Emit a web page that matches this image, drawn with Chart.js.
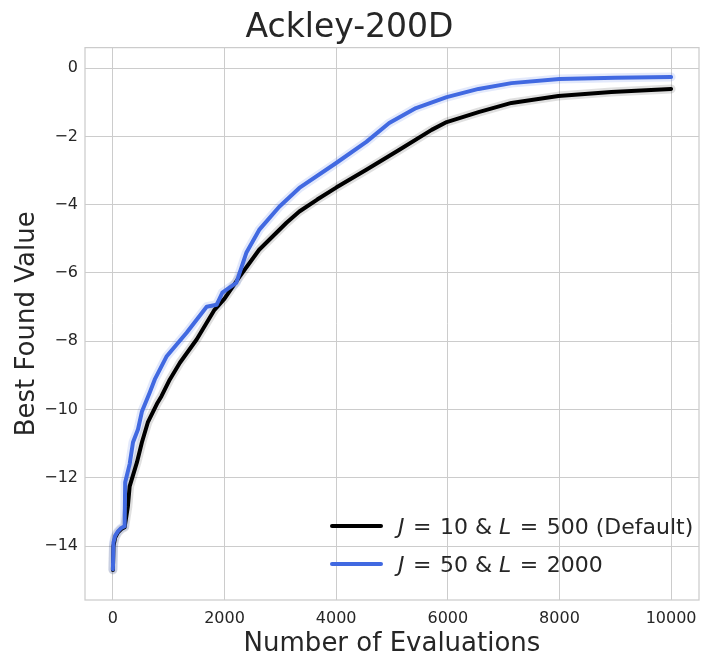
<!DOCTYPE html>
<html>
<head>
<meta charset="utf-8">
<script src="https://cdn.jsdelivr.net/npm/chart.js@4.4.1/dist/chart.umd.min.js"></script>
<style>
  html, body { margin: 0; padding: 0; background: #fff; }
  #wrap { width: 719px; height: 670px; }
</style>
</head>
<body>
<div id="wrap"><canvas id="ackleyChart" width="719" height="670"></canvas></div>
<script>
// --- data ---
const xTicks = [0, 2000, 4000, 6000, 8000, 10000];
const yTicks = [0, -2, -4, -6, -8, -10, -12, -14];

const seriesNames = ['J = 10 & L = 500 (Default)', 'J = 50 & L = 2000'];

// J = 10, L = 500
const defaultEvals = [0, 10, 40, 90, 150, 210, 268, 300, 430, 520, 625, 800, 870, 1020, 1200, 1500, 1820, 2000, 2270, 2620, 3110, 3340, 3660, 4000, 4540, 5125, 5710, 5980, 6550, 7140, 7980, 8930, 10000];
const defaultBest = [-14.7, -14.0, -13.75, -13.6, -13.5, -13.45, -12.84, -12.25, -11.55, -10.96, -10.38, -9.8, -9.61, -9.12, -8.63, -7.95, -7.08, -6.75, -6.11, -5.32, -4.53, -4.2, -3.85, -3.5, -2.98, -2.4, -1.81, -1.58, -1.29, -1.02, -0.82, -0.70, -0.61];

// J = 50, L = 2000
const bigEvals = [0, 10, 40, 90, 150, 210, 220, 300, 360, 450, 520, 660, 750, 960, 1320, 1680, 1860, 1960, 2210, 2390, 2620, 2980, 3340, 4000, 4540, 4950, 5430, 5980, 6550, 7140, 8000, 9000, 10000];
const bigBest = [-14.68, -13.9, -13.7, -13.57, -13.47, -13.42, -12.13, -11.6, -10.96, -10.58, -10.06, -9.5, -9.12, -8.45, -7.75, -6.99, -6.93, -6.58, -6.29, -5.41, -4.74, -4.06, -3.51, -2.78, -2.16, -1.61, -1.17, -0.85, -0.61, -0.44, -0.32, -0.28, -0.26];

const textColor = '#262626';
const gridColor = '#cccccc';
const fontFamily = '"DejaVu Sans", sans-serif';
const lineColors = ['#000000', '#4169e1'];
const haloColors = ['rgba(0,0,0,0.12)', 'rgba(65,105,225,0.15)'];

function toPoints(xs, ys) {
  return xs.map((x, i) => ({ x: x, y: ys[i] }));
}

function fmtTick(v) {
  return v < 0 ? '\u2212' + Math.abs(v) : String(v);
}

// frame around the axes + legend with italic J / L
const frameAndLegend = {
  id: 'frameAndLegend',
  beforeDatasetsDraw(chart) {
    const { ctx, chartArea: a } = chart;
    ctx.save();
    ctx.strokeStyle = gridColor;
    ctx.lineWidth = 1.25;
    ctx.strokeRect(a.left, a.top, a.right - a.left, a.bottom - a.top);
    ctx.restore();
  },
  afterDraw(chart) {
    const { ctx, chartArea: a } = chart;
    const rows = [a.bottom - 74, a.bottom - 36];
    const lineStart = a.right - 367;
    const lineEnd = a.right - 318;
    const textStart = a.right - 301;
    ctx.save();
    ctx.textBaseline = 'middle';
    ctx.fillStyle = textColor;
    seriesNames.forEach((name, i) => {
      const y = rows[i];
      ctx.strokeStyle = lineColors[i];
      ctx.lineWidth = 4;
      ctx.lineCap = 'round';
      ctx.beginPath();
      ctx.moveTo(lineStart, y);
      ctx.lineTo(lineEnd, y);
      ctx.stroke();

      // math-style: italic J / L and a bit more room round "="
      let x = textStart;
      const parts = name.split(/([JL](?= =)|=)/).filter(p => p.length);
      parts.forEach(p => {
        const italic = (p === 'J' || p === 'L');
        ctx.font = (italic ? 'italic ' : '') + '22px ' + fontFamily;
        if (p === '=') x += 1.5;
        ctx.fillText(p, x, y + 2);
        x += ctx.measureText(p).width;
        if (p === '=') x += 1.5;
      });
    });
    ctx.restore();
  }
};

new Chart(document.getElementById('ackleyChart'), {
  type: 'line',
  data: {
    datasets: [
      { label: seriesNames[1], data: toPoints(bigEvals, bigBest), borderColor: lineColors[1], borderWidth: 4, pointRadius: 0, order: 0 },
      { label: seriesNames[0], data: toPoints(defaultEvals, defaultBest), borderColor: lineColors[0], borderWidth: 4, pointRadius: 0, order: 1 },
      { label: 'band1', data: toPoints(bigEvals, bigBest), borderColor: haloColors[1], borderWidth: 9, pointRadius: 0, order: 2 },
      { label: 'band0', data: toPoints(defaultEvals, defaultBest), borderColor: haloColors[0], borderWidth: 9, pointRadius: 0, order: 3 }
    ]
  },
  options: {
    responsive: false,
    animation: false,
    events: [],
    layout: { padding: { left: 0, right: 20, top: 0, bottom: 0 } },
    elements: { line: { tension: 0, borderJoinStyle: 'round', borderCapStyle: 'round' } },
    plugins: {
      legend: { display: false },
      tooltip: { enabled: false },
      title: {
        display: true,
        text: 'Ackley-200D',
        color: textColor,
        font: { family: fontFamily, size: 33, weight: 'normal', lineHeight: 1.14 },
        padding: { top: 10, bottom: 0 }
      }
    },
    scales: {
      x: {
        type: 'linear',
        min: -500,
        max: 10500,
        afterBuildTicks: s => { s.ticks = xTicks.map(v => ({ value: v })); },
        afterFit: s => { s.height = 70; },
        grid: { color: gridColor, lineWidth: 1, drawTicks: false },
        border: { display: false },
        ticks: {
          color: textColor,
          font: { family: fontFamily, size: 16 },
          padding: 9,
          maxRotation: 0,
          autoSkip: false,
          callback: v => fmtTick(v)
        },
        title: {
          display: true,
          text: 'Number of Evaluations',
          color: textColor,
          font: { family: fontFamily, size: 26 },
          padding: { top: 0, bottom: 10 }
        }
      },
      y: {
        type: 'linear',
        min: -15.58,
        max: 0.6,
        afterBuildTicks: s => { s.ticks = yTicks.map(v => ({ value: v })); },
        afterFit: s => { s.width = 85; },
        grid: { color: gridColor, lineWidth: 1, drawTicks: false },
        border: { display: false },
        ticks: {
          color: textColor,
          font: { family: fontFamily, size: 16 },
          padding: 7,
          autoSkip: false,
          callback: v => fmtTick(v)
        },
        title: {
          display: true,
          text: 'Best Found Value',
          color: textColor,
          font: { family: fontFamily, size: 26 },
          padding: { top: 12, bottom: 0 }
        }
      }
    }
  },
  plugins: [frameAndLegend]
});
</script>
</body>
</html>
